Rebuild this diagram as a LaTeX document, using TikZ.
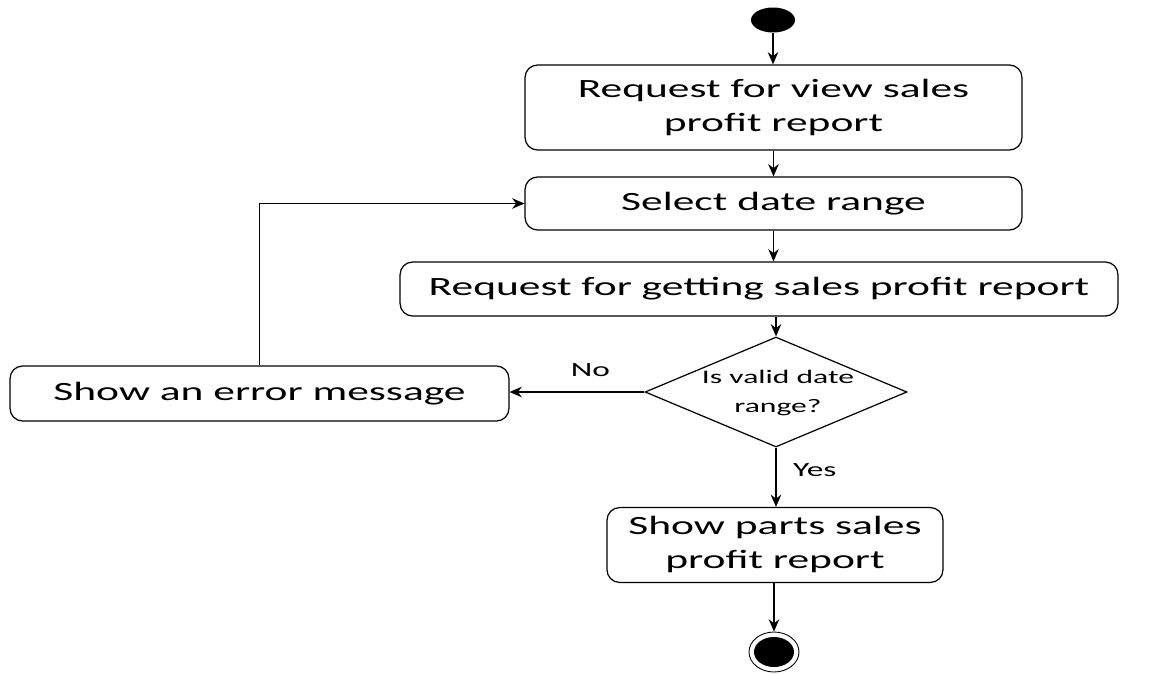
\documentclass[tikz,border=0pt]{standalone}
\usepackage{fontspec}
\usepackage{graphicx}
\setmainfont{Carlito}
\usetikzlibrary{shapes.geometric,arrows.meta}

% text in the picture is set wide
\newcommand{\wide}[1]{\scalebox{1.65}[1]{\begin{tabular}{@{}c@{}}#1\end{tabular}}}

\begin{document}
\begin{tikzpicture}[x=0.02cm,y=-0.02cm]
	\tikzstyle{every node}=[];
	\tikzstyle{act}=[draw, line width=0.7pt, rounded corners=0.25cm, align=center, font=\fontsize{15}{19.3}\selectfont, inner sep=2pt];
	\tikzstyle{choice}=[draw, line width=0.7pt, diamond, inner sep=0pt, minimum width=5.24cm, minimum height=2.2cm];
	\tikzstyle{lbl}=[font=\fontsize{11.5}{17}\selectfont];
	\tikzstyle{flow}=[line width=0.7pt, -{Stealth[length=7pt,width=6pt]}];
	\useasboundingbox (0,0) rectangle (1153,673);
	\path (773,20) node[ellipse, fill=black, minimum width=0.88cm, minimum height=0.5cm, inner sep=0pt] (start) {};
	\path (773.5,107.5) node[act, minimum width=9.94cm, minimum height=1.7cm] (viewreq) {\wide{Request for view sales\\profit report}};
	\path (773.5,203.5) node[act, minimum width=9.94cm, minimum height=1.06cm] (daterange) {\wide{Select date range}};
	\path (759,289) node[act, minimum width=14.36cm, minimum height=1.08cm] (getreq) {\wide{Request for getting sales profit report}};
	\path (776,392) node[choice] (valid) {};
	\path (778,392) node[font=\fontsize{10.9}{16.5}\selectfont] (validtxt) {\wide{Is valid date\\range?}};
	\path (259.5,393.5) node[act, minimum width=9.98cm, minimum height=1.1cm] (errmsg) {\wide{Show an error message}};
	\path (775,545) node[act, minimum width=6.72cm, minimum height=1.4cm] (showrep) {\wide{Show parts sales\\profit report}};
	\path (774,652) node[ellipse, draw, line width=0.5pt, minimum width=1.0cm, minimum height=0.8cm, inner sep=0pt] (stop) {};
	\fill (stop.center) ellipse (0.4cm and 0.3cm);
	\draw[flow] (start) -- (start |- viewreq.north);
	\draw[flow] (viewreq) -- (daterange);
	\draw[flow] (daterange.south) -- (daterange.south |- getreq.north);
	\draw[flow] (getreq.south -| valid.north) -- (valid.north);
	\draw[flow] (valid.west) -- node[lbl, above=0pt, pos=0.4] {\wide{No}} (valid.west -| errmsg.east);
	\draw[flow] (errmsg.north) |- (daterange.west);
	\draw[flow] (valid.south) -- node[lbl, right=6pt, pos=0.38] {\wide{Yes}} (valid.south |- showrep.north);
	\draw[flow] (showrep.south -| stop.north) -- (stop.north);
\end{tikzpicture}
\end{document}
